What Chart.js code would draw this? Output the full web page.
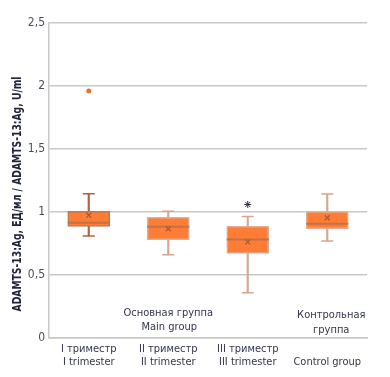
<!DOCTYPE html>
<html lang="ru">
<head>
  <meta charset="UTF-8" />
  <title>ADAMTS-13:Ag</title>
  <script src="https://cdn.jsdelivr.net/npm/chart.js"></script>
  <style>
    body { margin: 0; background: white; }
    #wrap { width: 390px; height: 377px; }
  </style>
</head>
<body>
  <div id="wrap"><canvas id="boxChart"></canvas></div>

  <script>
    // data
    const categories = [
      ["I триместр", "I trimester"],
      ["II триместр", "II trimester"],
      ["III триместр", "III trimester"],
      ["", "Control group"]
    ];
    const whiskerMin = [0.81, 0.66, 0.36, 0.77];
    const q1 = [0.886, 0.781, 0.671, 0.867];
    const medians = [0.914, 0.883, 0.781, 0.906];
    const q3 = [1.006, 0.957, 0.886, 1.004];
    const whiskerMax = [1.145, 1.006, 0.965, 1.142];
    const means = [0.975, 0.867, 0.763, 0.954];
    const outliers = [1.96, null, null, null];
    const significance = [null, null, 1.06, null];
    const yMin = 0, yMax = 2.5, yStep = 0.5;
    const yTitle = "ADAMTS-13:Ag, ЕД/мл / ADAMTS-13:Ag, U/ml";

    const FONT = "'Liberation Sans Narrow', 'DejaVu Sans Condensed', 'Roboto', sans-serif";
    const TEXT = "#33364d";
    const whiskerColors = ["#b5623c", "#d6a690", "#d6a690", "#d6a690"];
    const boxBorders = ["#b9795a", "#dcae97", "#dcae97", "#dcae97"];

    // group captions inside the plot + the y title (narrowed like the original)
    const extraText = {
      id: "extraText",
      afterDraw(chart) {
        const { ctx, chartArea, scales } = chart;
        ctx.save();
        ctx.font = "11px " + FONT;
        ctx.fillStyle = TEXT;
        ctx.textAlign = "center";
        ctx.textBaseline = "middle";
        const x1 = scales.x.getPixelForValue(1);
        ctx.fillText("Основная группа", x1, chartArea.bottom - 25);
        ctx.fillText("Main group", x1 + 1, chartArea.bottom - 11);
        const x3 = scales.x.getPixelForValue(3);
        ctx.fillText("Контрольная", x3 + 4, chartArea.bottom - 23);
        ctx.fillText("группа", x3 + 4, chartArea.bottom - 8);

        ctx.font = "bold 12px " + FONT;
        ctx.fillStyle = "#22243a";
        const w = ctx.measureText(yTitle).width;
        ctx.translate(18, 194);
        ctx.rotate(-Math.PI / 2);
        ctx.scale(235 / w, 1);
        ctx.fillText(yTitle, 0, 0);
        ctx.restore();
      }
    };

    const pts = (data, style, radius, color, width, order, fill) => ({
      type: "line",
      data: data,
      showLine: false,
      pointStyle: style,
      pointRadius: radius,
      pointHoverRadius: radius,
      pointBorderColor: color,
      pointBackgroundColor: fill || color,
      pointBorderWidth: width,
      order: order
    });

    new Chart(document.getElementById("boxChart"), {
      type: "bar",
      data: {
        labels: categories,
        datasets: [
          pts(means, "crossRot", 3.5, "#a95a34", 1.3, 0),
          pts(medians, "line", 21, "#c0724a", 2, 1),
          {
            type: "bar",
            data: q1.map((v, i) => [v, q3[i]]),
            backgroundColor: "#ff7c35",
            borderColor: boxBorders,
            borderWidth: 1.5,
            borderSkipped: false,
            barThickness: 42,
            grouped: false,
            order: 2
          },
          {
            type: "bar",
            data: whiskerMin.map((v, i) => [v, whiskerMax[i]]),
            backgroundColor: whiskerColors,
            borderWidth: 0,
            barThickness: 1.5,
            grouped: false,
            order: 3
          },
          pts(whiskerMax, "line", 6, whiskerColors, 1.5, 4),
          pts(whiskerMin, "line", 6, whiskerColors, 1.5, 4),
          pts(outliers, "circle", 2.5, "#e0713c", 0, 5),
          pts(significance, "star", 3.5, "#2a2d40", 1, 5)
        ]
      },
      options: {
        responsive: true,
        maintainAspectRatio: false,
        animation: false,
        layout: { padding: { top: 18, right: 14, left: 0, bottom: 0 } },
        plugins: {
          legend: { display: false },
          tooltip: { enabled: false }
        },
        scales: {
          x: {
            offset: true,
            grid: { display: false, drawTicks: false },
            border: { color: "#c8c8c8", width: 1.5 },
            ticks: {
              color: TEXT,
              padding: 4,
              maxRotation: 0,
              autoSkip: false,
              font: { family: FONT, size: 11, lineHeight: 1.25 }
            },
            afterFit: (s) => { s.height = 39; }
          },
          y: {
            min: yMin,
            max: yMax,
            grid: { color: "#c8c8c8", lineWidth: 1.5, drawTicks: false },
            border: { color: "#c8c8c8", width: 1.5 },
            ticks: {
              stepSize: yStep,
              color: "#4a4d5e",
              padding: 4,
              font: { family: FONT, size: 12 },
              callback: (v) => String(v).replace(".", ",")
            },
            afterFit: (s) => { s.width = 49; }
          }
        }
      },
      plugins: [extraText]
    });
  </script>
</body>
</html>
